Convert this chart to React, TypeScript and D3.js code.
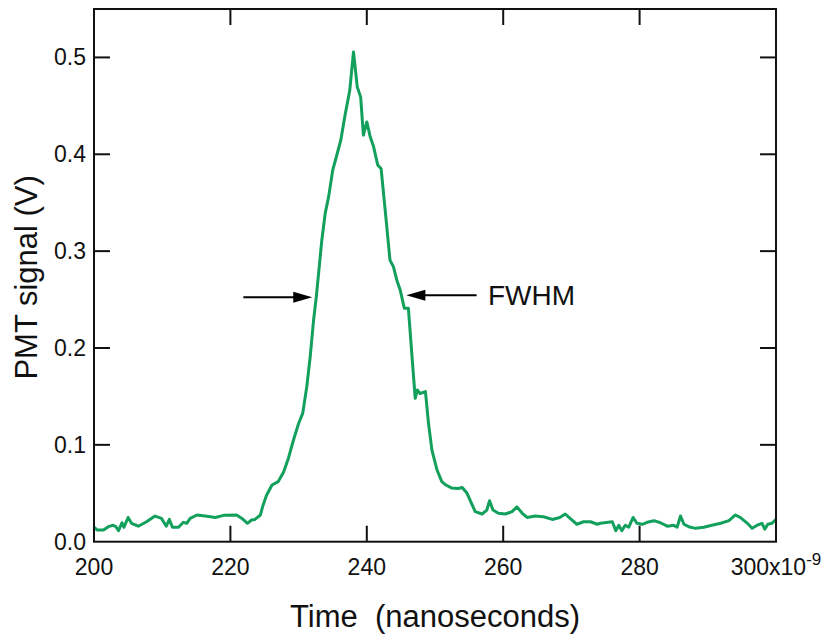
import React from "react";
import * as d3 from "d3";

const timeNs = [
  200.0, 200.5, 201.4, 202.1, 202.8, 203.2, 203.6, 204.1, 204.4, 205.0, 205.5, 206.5, 207.7, 208.95, 209.9,
  210.6, 211.05, 211.5, 212.4, 213.1, 213.6, 214.1, 215.1, 216.3, 217.8, 219.0, 220.9, 221.7, 222.5, 223.1,
  223.6, 224.4, 224.8, 225.3, 226.1, 227.0, 227.8, 228.5, 229.25, 230.0, 230.6, 231.2, 231.7, 232.2, 232.6,
  233.4, 233.9, 234.4, 235.0, 235.6, 236.2, 236.8, 237.5, 238.05, 238.6, 239.1, 239.5, 240.0, 240.5, 241.0,
  241.6, 242.1, 242.7, 243.4, 243.9, 244.4, 244.9, 245.5, 246.1, 246.6, 247.1, 247.4, 247.8, 248.6, 249.05,
  249.55, 250.3, 251.0, 251.6, 252.4, 253.4, 254.0, 254.7, 255.9, 256.9, 257.6, 258.0, 258.5, 259.3, 260.3,
  261.3, 262.0, 262.8, 263.5, 264.7, 265.9, 267.2, 268.3, 269.1, 269.8, 270.8, 271.8, 272.8, 273.8, 274.25,
  276.0, 276.5, 276.95, 277.4, 277.9, 278.4, 279.05, 279.6, 280.4, 281.1, 282.1, 283.05, 284.05, 285.0, 285.5,
  286.0, 286.5, 287.2, 288.2, 289.4, 290.6, 291.9, 293.1, 294.05, 294.8, 295.8, 296.5, 297.25, 297.95, 298.35,
  298.8, 299.4, 300.0,
];

const signalV = [
  0.0149, 0.012, 0.012, 0.0155, 0.017, 0.0155, 0.0114, 0.0196, 0.0149, 0.025, 0.019, 0.016, 0.0206, 0.0265, 0.024,
  0.016, 0.023, 0.0149, 0.0149, 0.02, 0.019, 0.024, 0.0276, 0.0265, 0.025, 0.0272, 0.0276, 0.024, 0.019, 0.0224,
  0.023, 0.0276, 0.038, 0.048, 0.0585, 0.062, 0.072, 0.086, 0.105, 0.122, 0.1325, 0.16, 0.191, 0.229, 0.253,
  0.311, 0.339, 0.356, 0.3836, 0.399, 0.415, 0.44, 0.466, 0.5057, 0.4696, 0.459, 0.4197, 0.4334, 0.418, 0.4077,
  0.389, 0.385, 0.342, 0.2907, 0.284, 0.27, 0.2598, 0.241, 0.241, 0.194, 0.148, 0.1566, 0.153, 0.155, 0.122,
  0.0946, 0.074, 0.062, 0.0585, 0.0555, 0.055, 0.056, 0.05, 0.031, 0.0286, 0.0327, 0.0423, 0.0327, 0.0293, 0.0286,
  0.031, 0.036, 0.0293, 0.025, 0.0265, 0.0258, 0.023, 0.025, 0.0286, 0.024, 0.018, 0.0206, 0.0206, 0.018, 0.019,
  0.0206, 0.0114, 0.017, 0.0114, 0.017, 0.0149, 0.025, 0.019, 0.018, 0.02, 0.0217, 0.0196, 0.016, 0.017, 0.0149,
  0.0265, 0.018, 0.0155, 0.0138, 0.0149, 0.017, 0.019, 0.0217, 0.0276, 0.0248, 0.019, 0.0138, 0.017, 0.019, 0.013,
  0.018, 0.019, 0.023,
];

const xTicks = [200, 220, 240, 260, 280, 300];
const yTicks = [0.0, 0.1, 0.2, 0.3, 0.4, 0.5];

// FWHM annotation: [tailTime, tipTime, level]
const leftArrow = [221.9, 232.0, 0.2525];
const rightArrow = [256.1, 245.8, 0.2545];

const W = 827;
const H = 635;
const M = { left: 94, right: 776, top: 9, bottom: 541.7 };
const FONT = "Liberation Sans, Arial, Helvetica, sans-serif";
const GREEN = "#12a05c";

export default function App() {
  const x = d3.scaleLinear().domain([200, 300]).range([M.left, M.right]);
  const y = d3.scaleLinear().domain([0, 0.55]).range([M.bottom, M.top]);

  const data = timeNs.map((t, i) => [t, signalV[i]] as [number, number]);
  const line = d3
    .line<[number, number]>()
    .x((d) => x(d[0]))
    .y((d) => y(d[1]));

  const tickLen = 16;

  const arrow = (a: number[], key: string) => {
    const x0 = x(a[0]);
    const x1 = x(a[1]);
    const yy = y(a[2]);
    const dir = x1 > x0 ? 1 : -1;
    const headLen = 19;
    const half = 5.5;
    const base = x1 - dir * headLen;
    return (
      <g key={key}>
        <line x1={x0} y1={yy} x2={base + dir * 2} y2={yy} stroke="#000" strokeWidth={2} />
        <path d={`M${x1},${yy}L${base},${yy - half}L${base},${yy + half}Z`} fill="#000" />
      </g>
    );
  };

  return (
    <svg
      width={W}
      height={H}
      style={{ position: "absolute", left: 0, top: 0, background: "#fff" }}
      fontFamily={FONT}
    >
      <rect x={0} y={0} width={W} height={H} fill="#fff" />

      {/* data line */}
      <path d={line(data) || ""} fill="none" stroke={GREEN} strokeWidth={3} strokeLinejoin="round" />

      {/* frame */}
      <rect
        x={M.left}
        y={M.top}
        width={M.right - M.left}
        height={M.bottom - M.top}
        fill="none"
        stroke="#111"
        strokeWidth={2}
      />

      {/* x ticks (bottom and top, inward) */}
      {xTicks
        .filter((t) => t !== 200 && t !== 300)
        .map((t) => (
          <g key={`xt${t}`}>
            <line x1={x(t)} x2={x(t)} y1={M.bottom} y2={M.bottom - tickLen} stroke="#111" strokeWidth={2} />
            <line x1={x(t)} x2={x(t)} y1={M.top} y2={M.top + tickLen} stroke="#111" strokeWidth={2} />
          </g>
        ))}

      {/* y ticks (left and right, inward) */}
      {yTicks
        .filter((v) => v !== 0)
        .map((v) => (
          <g key={`yt${v}`}>
            <line x1={M.left} x2={M.left + tickLen} y1={y(v)} y2={y(v)} stroke="#111" strokeWidth={2} />
            <line x1={M.right} x2={M.right - tickLen} y1={y(v)} y2={y(v)} stroke="#111" strokeWidth={2} />
          </g>
        ))}

      {/* x tick labels */}
      {xTicks.map((t) =>
        t === 300 ? (
          <text key={`xl${t}`} x={x(t)} y={575} fontSize={23} textAnchor="middle" fill="#111">
            {String(t)}x10
            <tspan fontSize={17} dy={-10}>
              -9
            </tspan>
          </text>
        ) : (
          <text key={`xl${t}`} x={x(t)} y={575} fontSize={23} textAnchor="middle" fill="#111">
            {String(t)}
          </text>
        )
      )}

      {/* y tick labels */}
      {yTicks.map((v) => (
        <text key={`yl${v}`} x={86} y={y(v) + 8} fontSize={23} textAnchor="end" fill="#111">
          {d3.format(".1f")(v)}
        </text>
      ))}

      {/* axis titles */}
      <text x={(M.left + M.right) / 2} y={627} fontSize={31} textAnchor="middle" fill="#111">
        Time{"\u00a0\u00a0"}(nanoseconds)
      </text>
      <text
        transform={`translate(36.5, ${(M.top + M.bottom) / 2 + 2}) rotate(-90)`}
        fontSize={31}
        textAnchor="middle"
        fill="#111"
      >
        PMT signal (V)
      </text>

      {/* FWHM annotation */}
      {arrow(leftArrow, "la")}
      {arrow(rightArrow, "ra")}
      <text x={488} y={305} fontSize={28} fill="#111">
        FWHM
      </text>
    </svg>
  );
}
